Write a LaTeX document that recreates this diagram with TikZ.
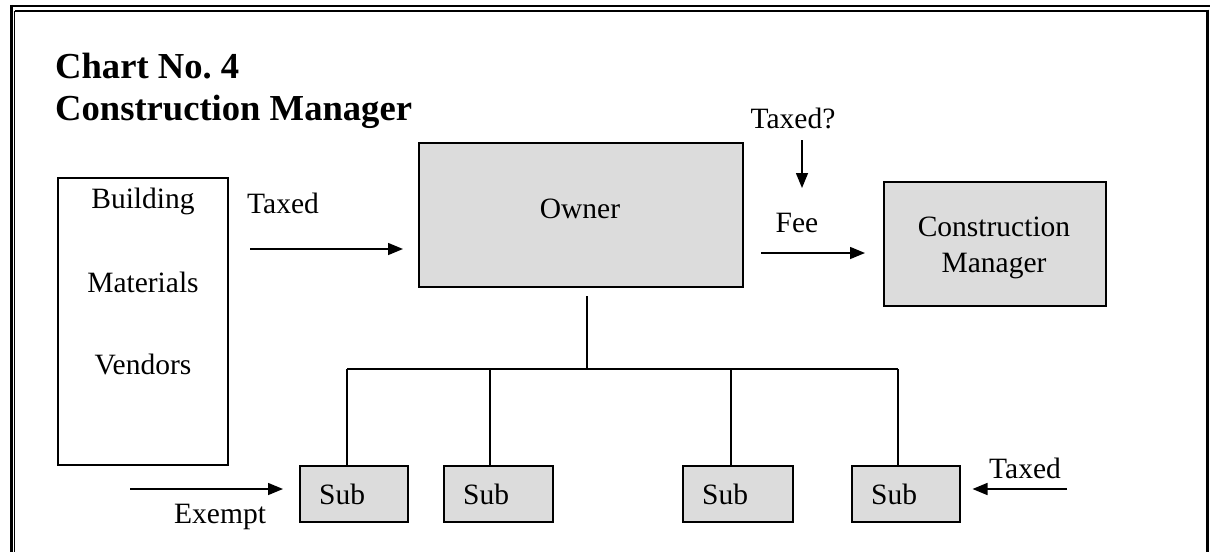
\documentclass[tikz,border=0pt]{standalone}
\usepackage{fontspec}
\setmainfont{Liberation Serif}
\usetikzlibrary{arrows.meta,calc}
\definecolor{boxgray}{HTML}{DCDCDC}
\frenchspacing
\tikzset{
  every picture/.style={line join=miter},
  plainbox/.style={draw=black, line width=1.5pt},
  graybox/.style={draw=black, line width=1.5pt, fill=boxgray},
  lbl/.style={inner sep=0pt, font=\fontsize{29.5}{34}\selectfont},
  ttl/.style={inner sep=0pt, anchor=base west, font=\fontsize{36.6}{40}\selectfont\bfseries},
  arr/.style={line width=1.5pt, -{Triangle[length=15pt,width=12pt]}},
  tree/.style={line width=1.5pt},
}
\begin{document}
\begin{tikzpicture}[x=1pt,y=-1pt]
\useasboundingbox (0,0) rectangle (1210,552);
% frame
\draw[line width=2.4pt] (10,6) -- (1210,6);
\draw[line width=2.6pt] (11.3,4.8) -- (11.3,552);
\draw[line width=1.5pt] (14.5,11) -- (1208,11);
\draw[line width=1.3pt] (14.5,11) -- (14.5,552);
\draw[line width=3pt] (1207.7,9.5) -- (1207.7,552);
% title
\node[ttl] (t1) at (55,78) {Chart No. 4};
\node[ttl] (t2) at (55,120) {Construction Manager};
% vendors box
\draw[plainbox] (58,178) rectangle (228,465);
\node[lbl, anchor=base] (bld) at (143,208) {Building};
\node[lbl, anchor=base] (mat) at (143,292) {Materials};
\node[lbl, anchor=base] (ven) at (143,374) {Vendors};
% owner
\node[graybox, minimum width=324pt, minimum height=144pt, anchor=north west, inner sep=0pt] (owner) at (418,142) {};
\node[lbl] (ownt) at (580,209) {Owner};
% construction manager
\node[graybox, minimum width=222pt, minimum height=124pt, anchor=north west, inner sep=0pt] (cm) at (883,181) {};
\node[lbl, anchor=base] (cm1) at (994,236) {Construction};
\node[lbl, anchor=base] (cm2) at (994,272) {Manager};
% subs
\foreach \n/\l/\r in {1/299/407, 2/443/552, 3/682/792, 4/851/959}{
  \node[graybox, minimum width={\r-\l}, minimum height=56pt, anchor=north west, inner sep=0pt] (sub\n) at (\l,465) {};
  \node[lbl, anchor=base west] (subt\n) at (\l+20,504) {Sub};
}
% labels
\node[lbl, anchor=base west] (taxl) at (247,213) {Taxed};
\node[lbl, anchor=base] (taxq) at (793,128) {Taxed?};
\node[lbl, anchor=base] (fee) at (797,232) {Fee};
\node[lbl, anchor=base west] (exm) at (174,523) {Exempt};
\node[lbl, anchor=base west] (taxr) at (989,478) {Taxed};
% arrows
\coordinate (a1) at (250,249);
\draw[arr, shorten >=15pt] (a1) -- (a1 -| owner.west);
\coordinate (a2) at (761,253);
\draw[arr, shorten >=18pt] (a2) -- (a2 -| cm.west);
\coordinate (a3) at (802,140);
\coordinate (a3e) at (802,188);
\draw[arr] (a3) -- (a3e);
\coordinate (a4) at (130,489);
\draw[arr, shorten >=16pt] (a4) -- (a4 -| sub1.west);
\coordinate (a5) at (1067,489);
\draw[arr, shorten >=12pt] (a5) -- (a5 -| sub4.east);
% tree
\coordinate (ot) at (587,296);
\coordinate (oj) at (587,369);
\draw[tree] (ot) -- (oj);
\coordinate (h1) at (347,369);
\coordinate (h2) at (490,369);
\coordinate (h3) at (731,369);
\coordinate (h4) at (898,369);
\draw[tree] (h1) -- (h4);
\draw[tree] (h1) -- (h1 |- sub1.north);
\draw[tree] (h2) -- (h2 |- sub2.north);
\draw[tree] (h3) -- (h3 |- sub3.north);
\draw[tree] (h4) -- (h4 |- sub4.north);
\end{tikzpicture}
\end{document}
